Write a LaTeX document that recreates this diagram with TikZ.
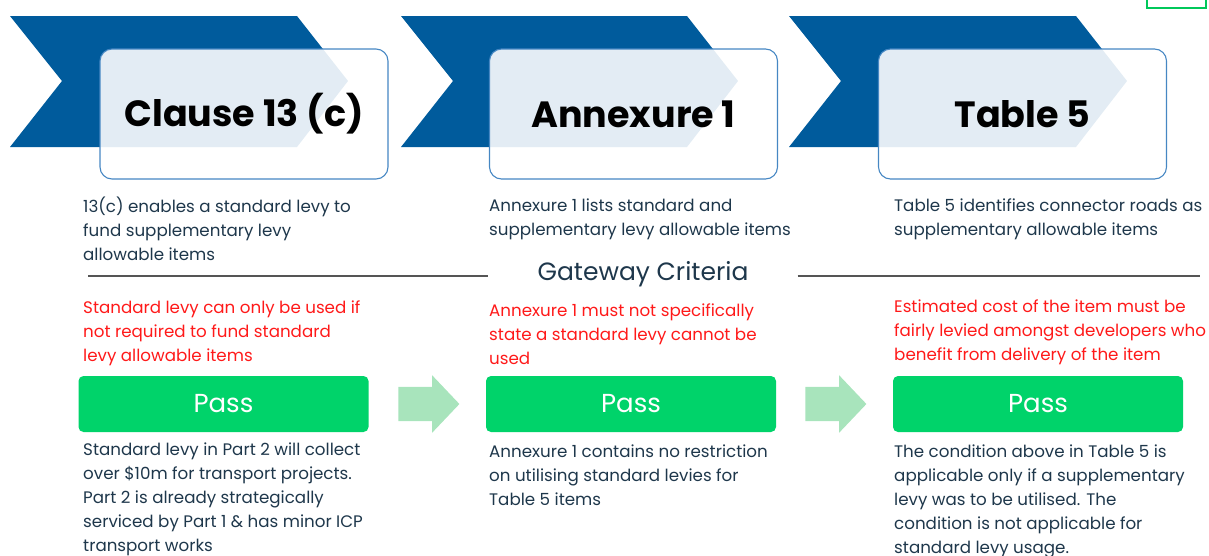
\documentclass[tikz,border=0pt]{standalone}
\usepackage{fontspec}
\setmainfont{Poppins}
\usepackage{tikz}
\usetikzlibrary{shapes.arrows}
\usetikzlibrary{calc}
\usetikzlibrary{positioning}

\definecolor{chevblue}{RGB}{0,91,156}
\definecolor{boxline}{RGB}{70,135,195}
\definecolor{passgreen}{RGB}{0,211,106}
\definecolor{arrowgreen}{RGB}{168,228,188}
\definecolor{framegreen}{RGB}{0,200,90}
\definecolor{bodytext}{RGB}{30,55,75}
\definecolor{critred}{RGB}{255,25,25}
\definecolor{rulegray}{RGB}{85,85,85}

\tikzset{
  chevron/.style={fill=chevblue, draw=none},
  titlebox/.style={draw=boxline, line width=1.1pt, fill=white, fill opacity=0.89, text opacity=1,
    rounded corners=12pt, minimum width=288pt, minimum height=130pt, inner sep=0pt,
    font=\fontsize{36.5}{40}\selectfont\bfseries},
  % base anchor of a multi-line node = baseline of its last line
  desc/.style={anchor=base west, inner sep=0pt, align=left, text=bodytext,
    font=\fontsize{16.7}{24}\selectfont},
  crit/.style={desc, text=critred},
  passbox/.style={fill=passgreen, rounded corners=5pt, minimum width=290pt, minimum height=56pt,
    inner sep=0pt, text=white, font=\fontsize{26}{28}\selectfont},
  passarrow/.style={single arrow, fill=arrowgreen, draw=none, minimum height=61pt, minimum width=57pt,
    single arrow head extend=11.5pt, single arrow tip angle=93, inner xsep=0pt, inner ysep=17pt,
    anchor=tail},
  rule/.style={draw=rulegray, line width=1.3pt},
}

\begin{document}
\begin{tikzpicture}[x=1pt,y=1pt,yscale=-1,xscale=1]
\useasboundingbox (0,0) rectangle (1209,555);

%Shape: Chevron [Clause 13 (c)]
\fill [chevron] (10,16) -- (297,16) -- (348,81) -- (297,147) -- (10,147) -- (62,81) -- cycle ;
%Shape: Chevron [Annexure 1]
\fill [chevron] (401,16) -- (687,16) -- (738,81) -- (687,147) -- (401,147) -- (453,81) -- cycle ;
%Shape: Chevron [Table 5]
\fill [chevron] (789,16) -- (1076,16) -- (1127,81) -- (1076,147) -- (789,147) -- (841,81) -- cycle ;

%Shape: Frame cut at the top right
\draw [draw=framegreen, line width=2.5pt] (1147,-10) rectangle (1206,8) ;

% Title Nodes
\node [titlebox] (title1) at (244,114) {Clause 13 (c)};
\node [titlebox] (title2) at (633.5,114) {Annexure 1};
\node [titlebox] (title3) at (1022.5,114) {Table 5};

% Text Node
\node [desc] (desc1) at (83,260) {13(c) enables a standard levy to\\fund supplementary levy\\allowable items};
% Text Node
\node [desc] (desc2) at (489,235) {Annexure 1 lists standard and\\supplementary levy allowable items};
% Text Node
\node [desc] (desc3) at (894,235) {Table 5 identifies connector roads as\\supplementary allowable items};

% Gateway rule
\node [inner xsep=49pt, inner ysep=0pt, text=bodytext, font=\fontsize{25}{28}\selectfont] (gateway) at (643,274) {Gateway Criteria};
\coordinate (ruleL) at (88,276);
\coordinate (ruleR) at (1200,276);
\draw [rule] (ruleL) -- (ruleL -| gateway.west) ;
\draw [rule] (ruleR -| gateway.east) -- (ruleR) ;

% Text Node
\node [crit] (crit1) at (83,361) {Standard levy can only be used if\\not required to fund standard\\levy allowable items};
% Text Node
\node [crit] (crit2) at (489,364) {Annexure 1 must not specifically\\state a standard levy cannot be\\used};
% Text Node
\node [crit] (crit3) at (894,360) {Estimated cost of the item must be\\fairly levied amongst developers who\\benefit from delivery of the item};

% Pass Nodes
\node [passbox] (pass1) at (223.5,404) {Pass};
\node [passbox] (pass2) at (631,404) {Pass};
\node [passbox] (pass3) at (1038,404) {Pass};

% Arrows between the Pass Nodes
\node [passarrow] (arr1) at ([xshift=29.5pt]pass1.east) {};
\node [passarrow] (arr2) at ([xshift=29pt]pass2.east) {};

% Text Node
\node [desc] (note1) at (83,551) {Standard levy in Part 2 will collect\\over \$10m for transport projects.\\Part 2 is already strategically\\serviced by Part 1 \& has minor ICP\\transport works};
% Text Node
\node [desc] (note2) at (489,505) {Annexure 1 contains no restriction\\on utilising standard levies for\\Table 5 items};
% Text Node
\node [desc] (note3) at (894,553) {The condition above in Table 5 is\\applicable only if a supplementary\\levy was to be utilised. The\\condition is not applicable for\\standard levy usage.};

\end{tikzpicture}
\end{document}
